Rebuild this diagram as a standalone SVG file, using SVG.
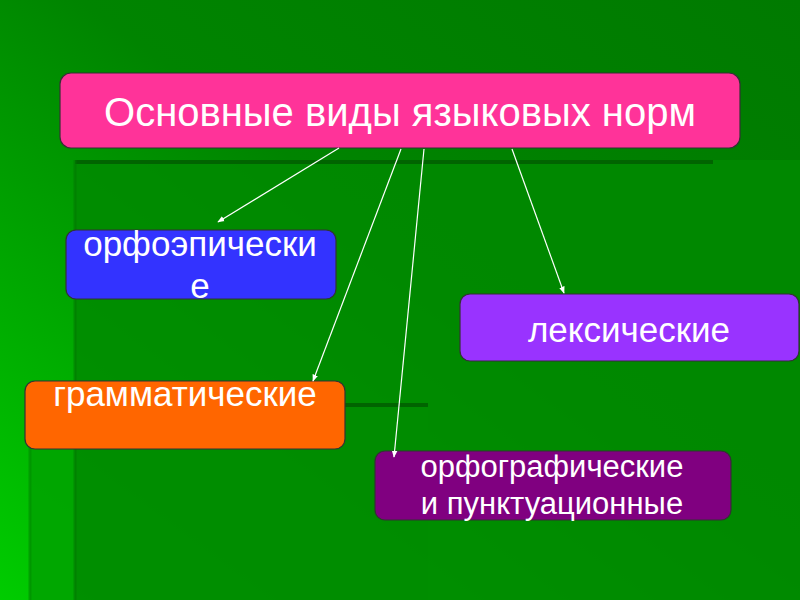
<svg xmlns="http://www.w3.org/2000/svg" width="800" height="600" viewBox="0 0 800 600">
  <defs>
    <linearGradient id="bg" x1="1" y1="0" x2="0" y2="1">
      <stop offset="0" stop-color="#007a00"/>
      <stop offset="0.45" stop-color="#008400"/>
      <stop offset="1" stop-color="#00cc00"/>
    </linearGradient>
    <marker id="arr" viewBox="0 0 10 10" refX="9" refY="5" markerWidth="7" markerHeight="7" markerUnits="userSpaceOnUse" orient="auto">
      <path d="M0,1 L10,5 L0,9 Z" fill="#ffffff"/>
    </marker>
    <style>
      .box { stroke: #333333; stroke-width: 1.2; }
      .t { font-family: "Liberation Sans", Arial, sans-serif; fill: #ffffff; text-anchor: middle; }
      .conn line { stroke: #ffffff; stroke-width: 1.2; marker-end: url(#arr); }
    </style>
  </defs>

  <!-- background -->
  <rect x="0" y="0" width="800" height="600" fill="url(#bg)"/>
  <rect x="30" y="405" width="398" height="195" fill="#009a00" opacity="0.6"/>
  <rect x="75" y="160" width="725" height="440" fill="#008a00" opacity="0.85"/>
  <rect x="30" y="405" width="45" height="195" fill="#00a600" opacity="0.9"/>
  <line x1="75" y1="162" x2="713" y2="162" stroke="#006400" stroke-width="4"/>
  <line x1="75" y1="160" x2="75" y2="600" stroke="#007a00" stroke-width="3" opacity="0.6"/>
  <line x1="30" y1="405" x2="30" y2="600" stroke="#009000" stroke-width="3" opacity="0.7"/>
  <line x1="30" y1="405" x2="428" y2="405" stroke="#006400" stroke-width="4"/>

  <g id="main">
    <rect class="box" x="60" y="73" width="680" height="75" rx="11" fill="#ff3399"/>
    <text class="t" x="400" y="126" font-size="40">Основные виды языковых норм</text>
  </g>

  <g id="orthoepic">
    <rect class="box" x="66" y="230" width="270" height="69" rx="10" fill="#3333ff"/>
    <text class="t" x="200" y="256" font-size="35">орфоэпически</text>
    <text class="t" x="200" y="298" font-size="35">е</text>
  </g>

  <g id="lexical">
    <rect class="box" x="460" y="294" width="339" height="67" rx="10" fill="#9933ff"/>
    <text class="t" x="629" y="342" font-size="35">лексические</text>
  </g>

  <g id="grammatical">
    <rect class="box" x="25" y="381" width="320" height="68" rx="10" fill="#ff6600"/>
    <text class="t" x="185" y="406" font-size="35">грамматические</text>
  </g>

  <g id="orthographic">
    <rect class="box" x="375" y="451" width="356" height="69" rx="10" fill="#800080"/>
    <text class="t" x="552" y="477" font-size="31">орфографические</text>
    <text class="t" x="552" y="514" font-size="31">и пунктуационные</text>
  </g>

  <g id="connectors" class="conn">
    <line x1="339" y1="148" x2="218" y2="222"/>
    <line x1="401" y1="149" x2="313" y2="381"/>
    <line x1="424" y1="149" x2="394" y2="457"/>
    <line x1="512" y1="149" x2="564" y2="293"/>
  </g>
</svg>
